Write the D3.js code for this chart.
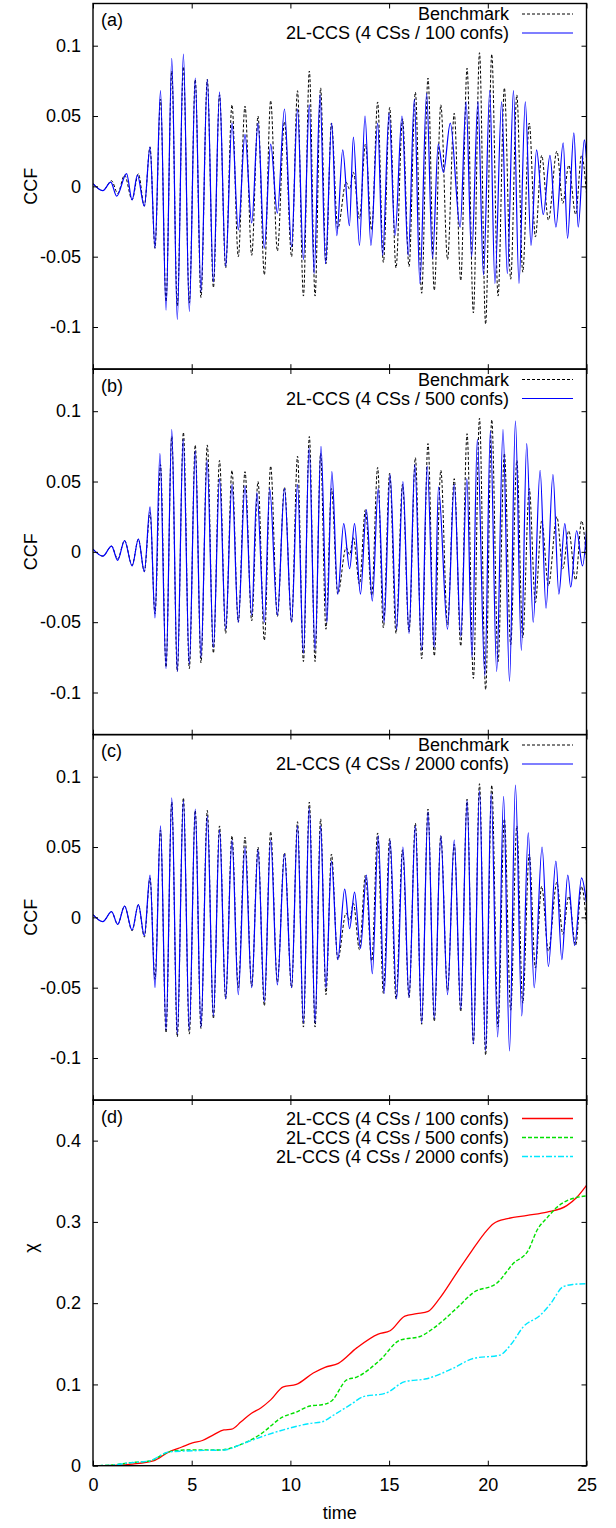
<!DOCTYPE html>
<html><head><meta charset="utf-8">
<script src="https://cdn.jsdelivr.net/npm/d3@7"></script>
<style>
body{margin:0;background:#fff}
text{font-family:"Liberation Sans",Arial,Helvetica,sans-serif;fill:#000}
</style>
</head><body>
<svg id="chart" width="616" height="1528"></svg>
<script>
// Axis ticks
const timeTicks = [0, 5, 10, 15, 20, 25];
const ccfTicks = [-0.1, -0.05, 0, 0.05, 0.1];
const ccfTickLabels = ["-0.1", "-0.05", "0", "0.05", "0.1"];
const chiTicks = [0, 0.1, 0.2, 0.3, 0.4];
const chiTickLabels = ["0", "0.1", "0.2", "0.3", "0.4"];

// Cross-correlation function: turning points [time, CCF]
const benchmark = [[0,0.002],[0.5,-0.003],[0.94,0.004],[1.25,-0.005],[1.6,0.008],[1.98,-0.0095],[2.3,0.009],[2.6,-0.014],[2.89,0.028],[3.14,-0.044],[3.42,0.062],[3.7,-0.082],[3.99,0.082],[4.27,-0.085],[4.58,0.085],[4.88,-0.083],[5.18,0.076],[5.47,-0.079],[5.79,0.076],[6.1,-0.072],[6.41,0.065],[6.72,-0.058],[7.04,0.058],[7.36,-0.05],[7.7,0.057],[8.04,-0.049],[8.36,0.05],[8.68,-0.063],[9.0,0.061],[9.34,-0.046],[9.7,0.046],[10.06,-0.05],[10.36,0.068],[10.66,-0.078],[10.96,0.082],[11.25,-0.078],[11.53,0.07],[11.8,-0.055],[12.08,0.045],[12.4,-0.03],[12.82,0.003],[13.0,-0.002],[13.19,0.01],[13.5,-0.023],[13.8,0.03],[14.12,-0.031],[14.42,0.06],[14.71,-0.054],[15.03,0.056],[15.35,-0.058],[15.68,0.048],[16.01,-0.057],[16.33,0.067],[16.65,-0.076],[16.97,0.077],[17.29,-0.074],[17.62,0.058],[17.96,-0.052],[18.3,0.052],[18.63,-0.067],[18.95,0.084],[19.27,-0.09],[19.58,0.095],[19.89,-0.098],[20.2,0.094],[20.52,-0.078],[20.84,0.07],[21.16,-0.066],[21.47,0.065],[21.77,-0.061],[22.1,0.045],[22.41,-0.036],[22.73,0.022],[23.07,-0.024],[23.5,0.025],[23.8,-0.012],[24.1,0.015],[24.45,-0.02],[24.75,0.022],[25,-0.005]];

const ccs100 = [[0,0.002],[0.5,-0.003],[0.9,0.003],[1.2,-0.007],[1.7,0.009],[1.98,-0.0097],[2.25,0.008],[2.6,-0.014],[2.89,0.028],[3.14,-0.044],[3.42,0.068],[3.7,-0.088],[3.99,0.091],[4.27,-0.0946],[4.58,0.094],[4.88,-0.089],[5.18,0.077],[5.47,-0.075],[5.79,0.076],[6.1,-0.068],[6.41,0.067],[6.72,-0.057],[7.04,0.045],[7.36,-0.031],[7.7,0.037],[8.04,-0.026],[8.36,0.045],[8.68,-0.044],[9.0,0.03],[9.34,-0.019],[9.7,0.055],[10.06,-0.043],[10.36,0.055],[10.66,-0.052],[10.96,0.058],[11.2,-0.062],[11.5,0.065],[11.78,-0.055],[12.09,0.045],[12.35,-0.035],[12.65,0.026],[12.99,-0.028],[13.19,0.035],[13.5,-0.042],[13.78,0.05],[14.08,-0.042],[14.42,0.045],[14.67,-0.049],[15.0,0.052],[15.3,-0.035],[15.65,0.05],[15.97,-0.049],[16.28,0.062],[16.56,-0.069],[16.9,0.066],[17.2,-0.051],[17.49,0.03],[17.75,0.01],[18.1,0.045],[18.6,-0.029],[18.9,0.06],[19.18,-0.05],[19.5,0.06],[19.78,-0.063],[20.1,0.068],[20.36,-0.069],[20.7,0.06],[20.99,-0.062],[21.3,0.068],[21.58,-0.069],[21.9,0.06],[22.19,-0.042],[22.47,0.026],[22.81,-0.02],[23.15,0.022],[23.45,-0.029],[23.82,0.031],[24.04,-0.037],[24.36,0.038],[24.58,-0.029],[24.89,0.033],[25,0.02]];

const ccs500 = [[0,0.002],[0.5,-0.003],[0.94,0.004],[1.25,-0.006],[1.6,0.008],[1.98,-0.01],[2.3,0.009],[2.6,-0.014],[2.89,0.032],[3.14,-0.047],[3.39,0.07],[3.7,-0.083],[3.99,0.087],[4.27,-0.085],[4.57,0.08],[4.88,-0.08],[5.18,0.072],[5.47,-0.075],[5.78,0.065],[6.1,-0.068],[6.41,0.052],[6.72,-0.055],[7.04,0.048],[7.36,-0.05],[7.7,0.047],[8.04,-0.045],[8.3,0.042],[8.68,-0.05],[8.95,0.045],[9.34,-0.045],[9.7,0.045],[10.06,-0.05],[10.36,0.048],[10.66,-0.072],[10.95,0.074],[11.25,-0.07],[11.55,0.075],[11.85,-0.05],[12.1,0.057],[12.4,-0.03],[12.7,0.02],[13.0,-0.012],[13.25,0.02],[13.55,-0.03],[13.85,0.03],[14.15,-0.035],[14.45,0.045],[14.75,-0.05],[15.05,0.055],[15.38,-0.055],[15.7,0.05],[16.01,-0.058],[16.3,0.062],[16.65,-0.07],[16.93,0.061],[17.29,-0.068],[17.5,0.046],[17.96,-0.055],[18.3,0.048],[18.63,-0.06],[18.94,0.052],[19.2,-0.075],[19.47,0.08],[19.85,-0.088],[20.13,0.086],[20.45,-0.085],[20.77,0.087],[21.1,-0.092],[21.4,0.093],[21.7,-0.07],[21.97,0.077],[22.3,-0.05],[22.65,0.058],[22.95,-0.04],[23.3,0.055],[23.6,-0.03],[23.9,0.02],[24.2,-0.025],[24.5,0.015],[24.8,-0.01],[25,0.015]];

const ccs2000 = [[0,0.002],[0.5,-0.003],[0.94,0.004],[1.25,-0.005],[1.6,0.008],[1.98,-0.009],[2.3,0.009],[2.6,-0.013],[2.89,0.03],[3.14,-0.05],[3.42,0.065],[3.7,-0.08],[3.99,0.085],[4.27,-0.083],[4.58,0.083],[4.88,-0.08],[5.18,0.077],[5.47,-0.078],[5.79,0.072],[6.1,-0.07],[6.41,0.062],[6.72,-0.058],[7.04,0.055],[7.36,-0.055],[7.7,0.05],[8.04,-0.05],[8.36,0.048],[8.68,-0.06],[9.0,0.055],[9.34,-0.048],[9.7,0.045],[10.06,-0.05],[10.36,0.065],[10.66,-0.075],[10.96,0.078],[11.25,-0.075],[11.53,0.065],[11.8,-0.05],[12.08,0.04],[12.4,-0.03],[12.75,0.02],[13.0,-0.008],[13.25,0.018],[13.55,-0.022],[13.85,0.03],[14.15,-0.04],[14.45,0.058],[14.75,-0.054],[15.05,0.055],[15.38,-0.058],[15.7,0.05],[16.01,-0.057],[16.33,0.065],[16.65,-0.075],[16.97,0.075],[17.29,-0.072],[17.62,0.058],[17.96,-0.055],[18.3,0.055],[18.63,-0.065],[18.95,0.083],[19.27,-0.09],[19.58,0.09],[19.89,-0.095],[20.17,0.088],[20.5,-0.085],[20.8,0.086],[21.1,-0.095],[21.4,0.094],[21.72,-0.07],[22.05,0.06],[22.35,-0.05],[22.75,0.05],[23.07,-0.035],[23.45,0.04],[23.75,-0.03],[24.05,0.03],[24.4,-0.02],[24.75,0.028],[25,0.01]];

// Error measure chi: [time, chi]
const chi100 = [[0,0],[1,0.0005],[2,0.002],[3.05,0.0058],[3.85,0.017],[4.5,0.023],[5.04,0.028],[5.54,0.031],[6.1,0.038],[6.63,0.044],[7.03,0.045],[7.5,0.054],[8.03,0.0645],[8.5,0.071],[9.0,0.081],[9.64,0.097],[10.3,0.1],[11.16,0.114],[11.75,0.121],[12.43,0.126],[13.36,0.145],[14.45,0.162],[15.05,0.166],[15.8,0.184],[16.4,0.187],[16.98,0.19],[17.5,0.204],[18.42,0.237],[19.18,0.264],[19.8,0.285],[20.3,0.298],[21.0,0.304],[22.0,0.308],[23.0,0.312],[24.0,0.32],[24.5,0.33],[25,0.345]];
const chi500 = [[0,0],[1,0.0008],[1.86,0.0037],[2.85,0.0058],[3.85,0.017],[4.64,0.0193],[5.5,0.0195],[6.43,0.0193],[7.43,0.0255],[8.43,0.0378],[9.62,0.06],[10.3,0.066],[11.0,0.0735],[11.6,0.075],[12.1,0.08],[12.85,0.1055],[13.36,0.109],[14.54,0.13],[15.55,0.1545],[16.57,0.159],[17.24,0.169],[18.42,0.1937],[19.27,0.213],[20.45,0.2245],[21.3,0.249],[22.05,0.265],[22.5,0.29],[23.0,0.305],[23.5,0.318],[24.0,0.326],[24.5,0.33],[25,0.332]];
const chi2000 = [[0,0],[1,0.0008],[1.86,0.0035],[2.85,0.0058],[3.85,0.017],[4.64,0.018],[5.6,0.0188],[6.63,0.0193],[7.63,0.0275],[8.82,0.038],[9.92,0.046],[11.0,0.052],[11.6,0.054],[12.2,0.0624],[13.1,0.076],[13.7,0.085],[14.8,0.089],[15.8,0.1034],[16.9,0.107],[18.25,0.12],[19.27,0.132],[20.6,0.136],[21.2,0.15],[21.8,0.171],[22.65,0.185],[23.2,0.2],[23.8,0.22],[24.3,0.223],[25,0.224]];

const svg = d3.select("#chart");
const left = 93, right = 586.5;
const panelTops = [3.5, 369, 734.5, 1100];
const panelH = 365.7;
const x = d3.scaleLinear().domain([0, 25]).range([left, right]);
const tickLen = 5;
const fontSize = 18;

const panels = [
  {tag: "(a)", type: "ccf", series: [
     {name: "Benchmark", data: benchmark, color: "#000", dash: "3,2", width: 1},
     {name: "2L-CCS (4 CSs / 100 confs)", data: ccs100, color: "#0000ff", dash: null, width: 1.2}]},
  {tag: "(b)", type: "ccf", series: [
     {name: "Benchmark", data: benchmark, color: "#000", dash: "3,2", width: 1},
     {name: "2L-CCS (4 CSs / 500 confs)", data: ccs500, color: "#0000ff", dash: null, width: 1.2}]},
  {tag: "(c)", type: "ccf", series: [
     {name: "Benchmark", data: benchmark, color: "#000", dash: "3,2", width: 1},
     {name: "2L-CCS (4 CSs / 2000 confs)", data: ccs2000, color: "#0000ff", dash: null, width: 1.2}]},
  {tag: "(d)", type: "chi", series: [
     {name: "2L-CCS (4 CSs / 100 confs)", data: chi100, color: "#ff0000", dash: null, width: 1.3},
     {name: "2L-CCS (4 CSs / 500 confs)", data: chi500, color: "#00e000", dash: "4,2", width: 1.4},
     {name: "2L-CCS (4 CSs / 2000 confs)", data: chi2000, color: "#00e8ff", dash: "6,2,2,2", width: 1.4}]}
];

panels.forEach((p, i) => {
  const top = panelTops[i], bottom = top + panelH;
  const isChi = p.type === "chi";
  const y = d3.scaleLinear()
    .domain(isChi ? [0, 0.45] : [-0.13, 0.13])
    .range([bottom, top]);
  const g = svg.append("g");

  const clipId = "clip" + i;
  svg.append("clipPath").attr("id", clipId)
    .append("rect").attr("x", left).attr("y", top).attr("width", right - left).attr("height", panelH);

  const line = d3.line()
    .x(d => x(d[0])).y(d => y(d[1]))
    .curve(d3.curveMonotoneX);

  const lines = g.append("g").attr("clip-path", `url(#${clipId})`);
  p.series.forEach(s => {
    lines.append("path").datum(s.data)
      .attr("d", line)
      .attr("fill", "none")
      .attr("stroke", s.color)
      .attr("stroke-width", s.width)
      .attr("stroke-dasharray", s.dash);
  });

  // axes with inward ticks on all four sides
  const yTicks = isChi ? chiTicks : ccfTicks;
  const yLabels = isChi ? chiTickLabels : ccfTickLabels;
  const axL = d3.axisLeft(y).tickValues(yTicks).tickSizeInner(-tickLen).tickSizeOuter(0)
    .tickFormat((d, k) => yLabels[k]).tickPadding(12);
  const gl = g.append("g").attr("transform", `translate(${left},0)`).call(axL);
  const axR = d3.axisRight(y).tickValues(yTicks).tickSizeInner(-tickLen).tickSizeOuter(0).tickFormat("");
  const gr = g.append("g").attr("transform", `translate(${right},0)`).call(axR);
  const axB = d3.axisBottom(x).tickValues(timeTicks).tickSizeInner(-tickLen).tickSizeOuter(0)
    .tickFormat(i === 3 ? d3.format("d") : "").tickPadding(13);
  const gb = g.append("g").attr("transform", `translate(0,${bottom})`).call(axB);
  const axT = d3.axisTop(x).tickValues(timeTicks).tickSizeInner(-tickLen).tickSizeOuter(0).tickFormat("");
  const gt = g.append("g").attr("transform", `translate(0,${top})`).call(axT);
  [gl, gr, gb, gt].forEach(a => {
    a.select(".domain").remove();
    a.selectAll(".tick line").attr("stroke", "#000").attr("stroke-width", 1);
    a.selectAll(".tick text").attr("font-size", fontSize).attr("font-family", "Liberation Sans, Arial, sans-serif").attr("fill", "#000");
  });

  g.append("rect").attr("x", left).attr("y", top).attr("width", right - left).attr("height", panelH)
    .attr("fill", "none").attr("stroke", "#000").attr("stroke-width", 1.4);

  g.append("text").attr("x", 101).attr("y", top + 16.5).attr("dy", "0.35em")
    .attr("font-size", fontSize).text(p.tag);

  // key
  const keyY0 = isChi ? 18.5 : 10.5, keyStep = 19;
  p.series.forEach((s, k) => {
    const ky = top + keyY0 + k * keyStep;
    g.append("text").attr("x", 509).attr("y", ky).attr("dy", "0.35em")
      .attr("text-anchor", "end").attr("font-size", fontSize).text(s.name);
    g.append("line").attr("x1", 522).attr("x2", 573).attr("y1", ky).attr("y2", ky)
      .attr("stroke", s.color).attr("stroke-width", s.width).attr("stroke-dasharray", s.dash);
  });

  // y title
  const ty = isChi ? 1248 : (top + bottom) / 2;
  g.append("text").attr("transform", `translate(31,${ty}) rotate(-90)`)
    .attr("text-anchor", "middle").attr("dy", "0.35em").attr("font-size", fontSize)
    .text(isChi ? "χ" : "CCF");
});

svg.append("text").attr("x", (left + right) / 2).attr("y", 1513).attr("dy", "0.35em")
  .attr("text-anchor", "middle").attr("font-size", fontSize).text("time");
</script>
</body></html>
